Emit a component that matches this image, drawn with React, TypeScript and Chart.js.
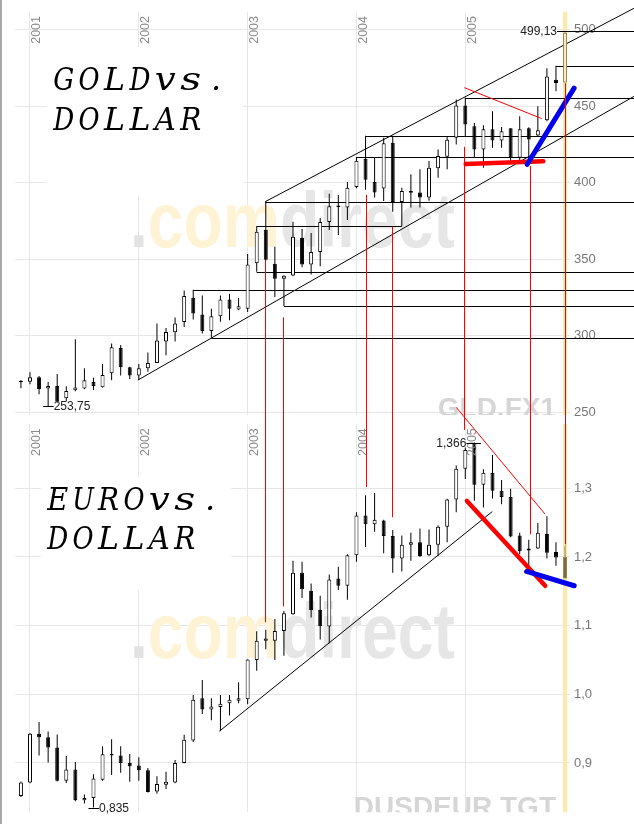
import React, { useEffect, useRef } from "react";
import { Chart, registerables } from "chart.js";

Chart.register(...registerables);

// Monthly candles, index 0 = first month shown (end of 2000) ... 60 = current month (highlighted)
const yearLabels = ["2001", "2002", "2003", "2004", "2005"];
const yearPositions = [1, 13, 25, 37, 49];

// ---------- GOLD (USD per ounce) ----------
const goldOpen = [
  270.3, 269.8, 272.7, 265.3, 267.0, 259.0, 264.2, 265.3, 269.6, 266.2,
  275.3, 291.8, 279.2, 273.8, 278.6, 282.0, 296.1, 302.2, 308.9, 324.8,
  313.7, 303.0, 312.6, 323.6, 317.0, 317.6, 347.3, 369.2, 346.9, 337.1,
  339.3, 363.8, 346.4, 354.7, 374.2, 385.0, 383.7, 397.2, 415.6, 400.4,
  396.1, 426.0, 387.4, 394.6, 393.5, 390.2, 409.4, 416.9, 429.3, 450.4,
  436.9, 421.7, 434.9, 427.6, 435.6, 416.3, 435.6, 430.8, 440.8, 467.3,
  465.5,
];
const goldHigh = [
  270.9, 276.0, 273.5, 269.6, 274.8, 266.9, 297.6, 278.7, 272.4, 281.4,
  294.8, 293.9, 279.6, 281.4, 289.0, 307.8, 305.0, 311.8, 329.5, 330.0,
  326.2, 317.6, 326.2, 327.4, 324.5, 353.4, 371.5, 387.6, 358.1, 339.5,
  374.4, 369.7, 367.0, 376.8, 392.8, 391.9, 400.4, 416.7, 430.6, 416.3,
  429.3, 430.6, 396.7, 405.4, 408.7, 414.1, 421.7, 430.4, 454.3, 455.6,
  439.0, 437.5, 446.6, 436.4, 435.6, 443.4, 436.2, 449.9, 474.8, 476.4,
  499.13,
];
const goldLow = [
  265.5, 268.1, 261.6, 253.75, 256.0, 256.8, 263.6, 264.9, 264.4, 266.0,
  270.7, 273.8, 271.6, 270.9, 276.4, 282.0, 287.2, 296.1, 305.6, 310.5,
  301.4, 298.5, 309.0, 310.0, 316.5, 315.4, 341.7, 349.0, 325.2, 319.3,
  338.7, 344.7, 339.9, 345.3, 369.0, 365.8, 375.5, 396.3, 395.4, 390.2,
  388.0, 381.0, 371.5, 383.7, 383.7, 388.1, 403.2, 408.7, 425.0, 430.4,
  416.3, 409.7, 422.8, 422.8, 414.1, 414.1, 416.3, 430.4, 440.1, 459.7,
  465.5,
];
const goldClose = [
  269.5, 272.7, 265.1, 267.0, 256.8, 263.8, 266.0, 270.7, 267.0, 274.2,
  292.4, 279.2, 273.8, 278.6, 282.0, 296.8, 302.4, 307.8, 325.8, 314.4,
  303.0, 312.6, 323.6, 317.6, 319.1, 346.4, 367.9, 349.5, 337.1, 339.1,
  364.6, 346.4, 354.7, 374.2, 384.6, 384.0, 396.7, 414.3, 401.9, 393.5,
  425.8, 387.4, 394.6, 393.3, 390.2, 409.7, 417.4, 428.0, 450.4, 438.0,
  421.7, 434.9, 427.6, 433.6, 416.3, 434.9, 428.2, 434.3, 469.4, 465.1,
  498.0,
];
const goldTicks = [250, 300, 350, 400, 450, 500];

// ---------- EUR / USD ----------
const eurOpen = [
  0.852, 0.8717, 0.9424, 0.9376, 0.9226, 0.874, 0.8905, 0.8457, 0.8491, 0.8754,
  0.9131, 0.9108, 0.9, 0.8962, 0.8895, 0.8585, 0.8683, 0.8717, 0.9, 0.9329,
  0.9941, 0.9777, 0.9814, 0.9871, 0.9905, 0.9927, 1.0498, 1.0781, 1.0781, 1.0922,
  1.1167, 1.1772, 1.151, 1.1228, 1.0987, 1.1686, 1.1581, 1.2025, 1.2604, 1.2477,
  1.2533, 1.2307, 1.1977, 1.218, 1.2213, 1.2025, 1.218, 1.2439, 1.2839, 1.3287,
  1.366, 1.3051, 1.3226, 1.2966, 1.2873, 1.2312, 1.2095, 1.2123, 1.2336, 1.2071,
  1.2005,
];
const eurHigh = [
  0.8731, 0.9438, 0.9598, 0.9457, 0.9414, 0.9103, 0.9014, 0.8542, 0.8835, 0.9245,
  0.9344, 0.9245, 0.9131, 0.9085, 0.8925, 0.8807, 0.8873, 0.9042, 0.941, 0.9989,
  1.021, 0.9941, 0.9989, 0.9989, 1.0177, 1.0507, 1.0917, 1.094, 1.1096, 1.1213,
  1.1944, 1.193, 1.1615, 1.1435, 1.1746, 1.1859, 1.2039, 1.2651, 1.2901, 1.2933,
  1.2542, 1.2392, 1.2312, 1.2354, 1.2415, 1.24, 1.2463, 1.2849, 1.3334, 1.3594,
  1.3666, 1.3277, 1.3485, 1.3122, 1.2994, 1.2354, 1.2251, 1.2495, 1.2594, 1.2213,
  1.2166,
];
const eurLow = [
  0.8505, 0.8703, 0.9108, 0.9008, 0.873, 0.8708, 0.8443, 0.8411, 0.835, 0.874,
  0.8825, 0.8859, 0.8726, 0.874, 0.857, 0.8552, 0.8622, 0.8703, 0.8995, 0.9305,
  0.9715, 0.9622, 0.947, 0.9693, 0.9871, 0.9856, 1.0343, 1.0658, 1.0498, 1.0563,
  1.1157, 1.1403, 1.112, 1.0799, 1.0743, 1.152, 1.1379, 1.193, 1.2146, 1.2368,
  1.2053, 1.177, 1.1789, 1.1944, 1.2, 1.2015, 1.2015, 1.2213, 1.2651, 1.3136,
  1.282, 1.2721, 1.2853, 1.2768, 1.2288, 1.2039, 1.1849, 1.2118, 1.1977, 1.1874,
  1.1686,
];
const eurClose = [
  0.8717, 0.9424, 0.9376, 0.9226, 0.874, 0.8905, 0.8457, 0.8491, 0.8774, 0.9127,
  0.9108, 0.9, 0.8952, 0.8895, 0.8576, 0.8693, 0.8726, 0.9, 0.9339, 0.9919,
  0.9777, 0.9824, 0.9862, 0.9919, 0.9941, 1.0507, 1.0781, 1.0813, 1.0922, 1.1181,
  1.1772, 1.153, 1.1228, 1.0993, 1.1671, 1.1581, 1.2025, 1.2604, 1.2477, 1.2542,
  1.2307, 1.1977, 1.218, 1.2213, 1.2015, 1.218, 1.2439, 1.2839, 1.3287, 1.356,
  1.3051, 1.3226, 1.2966, 1.2873, 1.2298, 1.2085, 1.2123, 1.2354, 1.2062, 1.1991,
  1.1686,
];
const eurTicks = [0.9, 1.0, 1.1, 1.2, 1.3];

// ---------- hand-drawn analysis (month index, price) ----------
// horizontal support/resistance levels: [fromIndex, toIndex (null = to edge), price]
const goldLevels = [
  [26.95, null, 387.6],
  [26, 42, 371.5],
  [26, null, 341.7],
  [19, null, 330.0],
  [29, null, 319.3],
  [21, null, 298.5],
  [38, null, 430.6],
  [37, null, 416.7],
  [49, null, 455.6],
  [59, null, 476.4],
  [59.45, null, 499.13],
];
// segments: [i1, v1, i2, v2]
const goldChannel = [
  [26.95, 387.6, 67.6, 514.0],
  [12.9, 270.9, 67.6, 456.4],
];
const goldThinRed = [[48.9, 462.1, 57.42, 441.9]];
const goldThickRed = [[49.04, 412.2, 57.6, 413.9]];
const goldThickBlue = [[55.83, 412.0, 61.0, 461.8]];

const eurChannel = [[21.87, 0.9461, 51.97, 1.2661]];
const eurThinRed = [[48.02, 1.4177, 57.78, 1.2627]];
const eurThickRed = [[49.18, 1.2816, 57.81, 1.1581]];
const eurThickBlue = [[55.76, 1.1789, 61.01, 1.1581]];

// red links from gold chart down to euro chart
const linkIndex = [26.95, 28.93, 38.08, 40.88, 48.9, 56.15, 60];
const linkGold = [349.5, 311.9, 392.0, 371.2, 423.4, 410.9, 465.1];
const linkEur = [1.105, 1.128, 1.3018, 1.258, 1.3852, 1.233, 1.2184];

// extreme value labels: [index, value, text, side]
const goldMarks = [
  [3, 253.75, "253,75", "right"],
  [60, 499.13, "499,13", "left"],
];
const eurMarks = [
  [8, 0.835, "0,835", "right"],
  [50, 1.3666, "1,366", "left"],
];

const FONT = '"Liberation Sans", Arial, sans-serif';

function line(ctx: any, x1: number, y1: number, x2: number, y2: number) {
  ctx.beginPath();
  ctx.moveTo(x1, y1);
  ctx.lineTo(x2, y2);
  ctx.stroke();
}

function drawWatermark(ctx: any, baseline: number) {
  ctx.save();
  ctx.font = `bold 77px ${FONT}`;
  ctx.textBaseline = "alphabetic";
  ctx.textAlign = "left";
  const total = ctx.measureText(".comdirect").width;
  const sx = 325 / total;
  ctx.translate(130, baseline);
  ctx.scale(sx, 1);
  const parts: [string, string][] = [
    [".", "#e2e2e2"],
    ["com", "#fff3d6"],
    ["direct", "#e6e6e6"],
  ];
  let x = 0;
  for (const [t, c] of parts) {
    ctx.fillStyle = c;
    ctx.fillText(t, x, 0);
    x += ctx.measureText(t).width;
  }
  ctx.restore();
}

function makePlugin(cfg: any) {
  return {
    id: "panelDeco",
    beforeDatasetsDraw(chart: any) {
      const ctx = chart.ctx;
      const ca = chart.chartArea;
      const X = (v: number) => chart.scales.x.getPixelForValue(v);
      const Y = (v: number) => chart.scales.y.getPixelForValue(v);
      ctx.save();
      // white box behind the title
      ctx.fillStyle = "#ffffff";
      const b = cfg.titleBox;
      ctx.fillRect(b[0], b[1], b[2], b[3]);
      // watermarks clipped to plot area
      ctx.save();
      ctx.beginPath();
      ctx.rect(ca.left, ca.top, ca.right - ca.left, ca.bottom - ca.top);
      ctx.clip();
      drawWatermark(ctx, ca.top + cfg.wmOffset);
      ctx.font = `bold 28px ${FONT}`;
      ctx.fillStyle = "#d6d6d6";
      ctx.textAlign = "right";
      ctx.textBaseline = "alphabetic";
      ctx.fillText(cfg.tag, ca.right - 14, ca.bottom + cfg.tagDrop);
      ctx.restore();
      // highlight of current month
      const hx = X(cfg.open.length - 1);
      ctx.fillStyle = "#fde9a8";
      ctx.fillRect(hx - 2, ca.top, 4, ca.bottom - ca.top);
      // black levels and channels
      ctx.strokeStyle = "#000000";
      ctx.lineWidth = 1;
      for (const [f, t, v] of cfg.levels) {
        const y = Math.round(Y(v)) + 0.5;
        const x1 = t == null ? chart.width : X(t);
        line(ctx, X(f), y, x1, y);
      }
      for (const [a, b1, c, d] of cfg.channel) {
        line(ctx, X(a), Y(b1), X(c), Y(d));
      }
      ctx.restore();
    },
    afterDatasetsDraw(chart: any) {
      const ctx = chart.ctx;
      const ca = chart.chartArea;
      const X = (v: number) => chart.scales.x.getPixelForValue(v);
      const Y = (v: number) => chart.scales.y.getPixelForValue(v);
      ctx.save();
      ctx.strokeStyle = "#ff0000";
      ctx.lineWidth = 1;
      for (const [a, b1, c, d] of cfg.thinRed) line(ctx, X(a), Y(b1), X(c), Y(d));
      ctx.lineCap = "round";
      ctx.lineWidth = 4.5;
      for (const [a, b1, c, d] of cfg.thickRed) line(ctx, X(a), Y(b1), X(c), Y(d));
      ctx.strokeStyle = "#0000ee";
      ctx.lineWidth = 5;
      for (const [a, b1, c, d] of cfg.thickBlue) line(ctx, X(a), Y(b1), X(c), Y(d));
      ctx.lineCap = "butt";

      // title, drawn on a fixed monospace grid (typewriter look)
      ctx.fillStyle = "#000000";
      ctx.font = `italic 32px "DejaVu Serif", "Liberation Serif", serif`;
      ctx.textAlign = "center";
      ctx.textBaseline = "alphabetic";
      const cell = 25.4;
      cfg.title.forEach((t: string, k: number) => {
        for (let j = 0; j < t.length; j++) {
          const ch = t[j];
          const w = ctx.measureText(ch).width;
          let sx = ch === "." ? 1 : 21 / w;
          sx = Math.max(0.8, Math.min(1.35, sx));
          ctx.save();
          ctx.translate(cfg.titleX + cell * (j + 0.5), cfg.titleY[k]);
          ctx.scale(sx, 1);
          ctx.fillText(ch, 0, 0);
          ctx.restore();
        }
      });
      ctx.textAlign = "left";

      // year labels
      ctx.fillStyle = "#8a8a8a";
      ctx.font = `12.5px ${FONT}`;
      yearPositions.forEach((p, k) => {
        ctx.save();
        ctx.translate(X(p) + 10.5, ca.top + 32);
        ctx.rotate(-Math.PI / 2);
        ctx.fillText(yearLabels[k], 0, 0);
        ctx.restore();
      });

      // extreme value labels
      ctx.font = `12px ${FONT}`;
      ctx.fillStyle = "#222222";
      ctx.strokeStyle = "#000000";
      ctx.lineWidth = 1;
      ctx.textBaseline = "middle";
      for (const [i, v, text, side] of cfg.marks) {
        const x = X(i);
        const y = Math.round(Y(v)) + 0.5;
        if (side === "right") {
          line(ctx, x - 5, y, x + 5.5, y);
          ctx.textAlign = "left";
          ctx.fillText(text, x + 5.5, y + 0.5);
        } else {
          line(ctx, x - 8, y, x + 6.5, y);
          ctx.textAlign = "right";
          ctx.fillText(text, x - 8, y + 0.5);
        }
      }
      ctx.restore();
    },
    afterDraw(chart: any) {
      const ctx = chart.ctx;
      const ca = chart.chartArea;
      const X = (v: number) => chart.scales.x.getPixelForValue(v);
      const Y = (v: number) => chart.scales.y.getPixelForValue(v);
      ctx.save();
      // red link lines between the two panels (drawn last, on top)
      ctx.strokeStyle = "rgb(255,0,0)";
      ctx.lineWidth = 1;
      cfg.linkIdx.forEach((idx: number, k: number) => {
        const x = Math.round(X(idx)) + 0.5;
        if (cfg.linkDir === "down") line(ctx, x, Y(cfg.linkVal[k]), x, ca.bottom + 5);
        else line(ctx, x, ca.top - 5, x, Y(cfg.linkVal[k]));
      });
      if (cfg.border) {
        ctx.fillStyle = "#a8a8a8";
        ctx.fillRect(0, 0, 2, chart.height);
      }
      ctx.restore();
    },
  };
}

function buildConfig(cfg: any) {
  const n = cfg.open.length;
  const last = n - 1;
  const up = (i: number) => cfg.close[i] >= cfg.open[i];
  return {
    type: "bar",
    data: {
      datasets: [
        {
          label: "body",
          data: cfg.open.map((o: number, i: number) => ({ x: i, y: [o, cfg.close[i]] })),
          barThickness: 4,
          borderWidth: 1,
          borderSkipped: false,
          inflateAmount: 0,
          grouped: false,
          order: 0,
          backgroundColor: (c: any) => {
            const i = c.dataIndex;
            if (i === last) return up(i) ? "#fbeec0" : "#7b6b39";
            return up(i) ? "#ffffff" : "#000000";
          },
          borderColor: (c: any) => (c.dataIndex === last ? "#8f7f4a" : "#000000"),
        },
        {
          label: "wick",
          data: cfg.low.map((l: number, i: number) => ({ x: i, y: [l, cfg.high[i]] })),
          barThickness: 1,
          borderWidth: 0,
          inflateAmount: 0,
          grouped: false,
          order: 1,
          backgroundColor: (c: any) => (c.dataIndex === last ? "#8f7f4a" : "#000000"),
        },
      ],
    },
    options: {
      animation: false,
      responsive: false,
      events: [],
      layout: { padding: { left: 15, right: 0, top: cfg.padTop, bottom: cfg.padBottom } },
      plugins: { legend: { display: false }, tooltip: { enabled: false } },
      scales: {
        x: {
          type: "linear",
          min: -0.654,
          max: 60.546,
          offset: false,
          afterBuildTicks: (s: any) => {
            s.ticks = yearPositions.map((v) => ({ value: v }));
          },
          afterFit: (s: any) => {
            s.height = 0;
          },
          ticks: { display: false },
          grid: { color: "#e6e6e6", drawTicks: false, offset: false },
          border: { display: false },
        },
        y: {
          type: "linear",
          position: "right",
          min: cfg.min,
          max: cfg.max,
          beginAtZero: false,
          afterBuildTicks: (s: any) => {
            s.ticks = cfg.ticks.map((v: number) => ({ value: v }));
          },
          afterFit: (s: any) => {
            s.width = 64;
          },
          ticks: {
            padding: 4,
            color: "#777777",
            font: { family: FONT, size: 13 },
            callback: cfg.fmt,
          },
          grid: { color: "#e6e6e6", drawTicks: false },
          border: { display: false },
        },
      },
    },
    plugins: [makePlugin(cfg)],
  };
}

const goldCfg = {
  open: goldOpen,
  high: goldHigh,
  low: goldLow,
  close: goldClose,
  min: 248.05,
  max: 511.7,
  ticks: goldTicks,
  fmt: (v: any) => String(v),
  padTop: 10,
  padBottom: 409,
  title: ["GOLDvs.", "DOLLAR"],
  titleX: 51,
  titleY: [90, 130],
  titleBox: [47, 47, 196, 150],
  wmOffset: 235,
  tag: "GLD.FX1",
  tagDrop: 2,
  levels: goldLevels,
  channel: goldChannel,
  thinRed: goldThinRed,
  thickRed: goldThickRed,
  thickBlue: goldThickBlue,
  linkIdx: linkIndex,
  linkVal: linkGold,
  linkDir: "down",
  marks: goldMarks,
  border: true,
};

const eurCfg = {
  open: eurOpen,
  high: eurHigh,
  low: eurLow,
  close: eurClose,
  min: 0.8283,
  max: 1.3937,
  ticks: eurTicks,
  fmt: (v: any) => Number(v).toFixed(1).replace(".", ","),
  padTop: 424,
  padBottom: 0,
  title: ["EUROvs.", "DOLLAR"],
  titleX: 45,
  titleY: [510, 549],
  titleBox: [41, 477, 190, 113],
  wmOffset: 234,
  tag: "DUSDEUR TGT",
  tagDrop: 4,
  levels: [],
  channel: eurChannel,
  thinRed: eurThinRed,
  thickRed: eurThickRed,
  thickBlue: eurThickBlue,
  linkIdx: linkIndex,
  linkVal: linkEur,
  linkDir: "up",
  marks: eurMarks,
  border: false,
};

export default function App() {
  const topRef = useRef<HTMLCanvasElement>(null);
  const botRef = useRef<HTMLCanvasElement>(null);
  useEffect(() => {
    const c1 = new Chart(topRef.current as any, buildConfig(goldCfg) as any);
    const c2 = new Chart(botRef.current as any, buildConfig(eurCfg) as any);
    return () => {
      c1.destroy();
      c2.destroy();
    };
  }, []);
  const cs: any = { position: "absolute", left: 0, top: 0, width: 634, height: 824 };
  return (
    <div
      style={{
        position: "absolute",
        left: 0,
        top: 0,
        width: 634,
        height: 824,
        background: "#ffffff",
        overflow: "hidden",
      }}
    >
      <canvas ref={topRef} width={634} height={824} style={cs} />
      <canvas ref={botRef} width={634} height={824} style={cs} />
    </div>
  );
}
